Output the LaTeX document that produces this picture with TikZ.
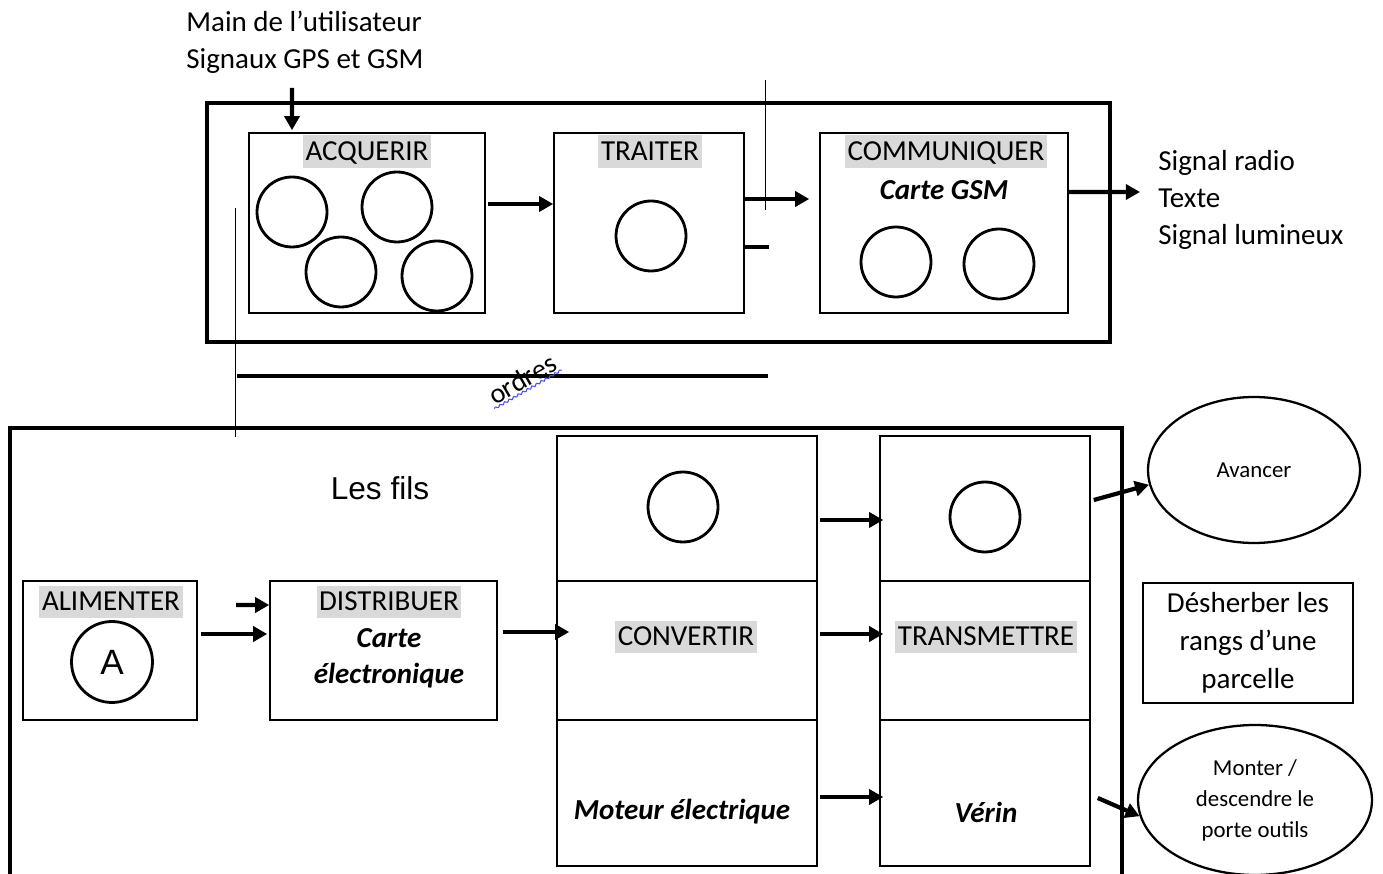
\documentclass[tikz,border=0pt]{standalone}
\usepackage{fontspec}
\setmainfont{Carlito}
\newfontfamily\arialfont{Liberation Sans}
\usetikzlibrary{shapes.geometric, arrows.meta, decorations.pathmorphing}
\definecolor{surlign}{RGB}{217,217,217}

\begin{document}
\begin{tikzpicture}[
  x=0.02cm, y=-0.02cm,
  cadre/.style={draw, line width=2pt},
  bloc/.style={rectangle, draw, line width=0.9pt, inner sep=0pt},
  etiq/.style={fill=surlign, inner xsep=1.5pt, inner ysep=0pt, minimum height=0.66cm,
               text height=12.5pt, text depth=2.5pt, font=\fontsize{16.5}{20}\selectfont},
  texte/.style={align=center, inner sep=0pt, font=\fontsize{16.5}{21}\selectfont},
  gras/.style={texte, font=\fontsize{16.5}{20.5}\selectfont\bfseries\itshape},
  rond/.style={circle, draw, line width=1.6pt, minimum size=1.4cm, inner sep=0pt},
  bulle/.style={ellipse, draw, line width=1.3pt, inner sep=0pt, align=center,
                font=\fontsize{13}{17.6}\selectfont},
  arrow/.style={-{Triangle[length=8pt, width=8.5pt]}, line width=2.4pt},
  fin/.style={line width=0.5pt},
]
  \useasboundingbox (0,0) rectangle (1383,874);

  % partie commande
  \draw[cadre] (207,103) rectangle (1110,342);
  \node[bloc, minimum width=4.72cm, minimum height=3.6cm] (acq)   at (367,223) {};
  \node[bloc, minimum width=3.8cm,  minimum height=3.6cm] (trait) at (649,223) {};
  \node[bloc, minimum width=4.96cm, minimum height=3.6cm] (comm)  at (944,223) {};
  \node[etiq] (acqT)   at (367,152) {ACQUERIR};
  \node[etiq] (traitT) at (650,152) {TRAITER};
  \node[etiq] (commT)  at (946,152) {COMMUNIQUER};
  \node[gras] (gsm)    at (944,190) {Carte GSM};

  \node[rond] (a1) at (292,212) {};
  \node[rond] (a2) at (397,207) {};
  \node[rond] (a3) at (341,272) {};
  \node[rond] (a4) at (437,276) {};
  \node[rond] (t1) at (651,236) {};
  \node[rond] (c1) at (896,262) {};
  \node[rond] (c2) at (999,264) {};

  \node[texte, align=left, anchor=west] (entrees) at (186,42)
    {Main de l’utilisateur\\Signaux GPS et GSM};
  \node[texte, align=left, anchor=west] (sorties) at (1158,200)
    {Signal radio\\Texte\\Signal lumineux};
  \coordinate (main)   at (292,88);
  \coordinate (sortie) at (1140,192);

  \draw[arrow] (main) -- ([xshift=-1.5cm, yshift=0.04cm]acq.north);
  \draw[arrow] ([xshift=0.04cm, yshift=0.38cm]acq.east) -- ([yshift=0.38cm]trait.west);
  \draw[arrow] ([yshift=0.48cm]trait.east) -- ([xshift=-0.2cm, yshift=0.48cm]comm.west);
  \draw[line width=2.4pt] ([yshift=-0.48cm]trait.east) -- +(24,0);
  \draw[arrow] ([yshift=0.62cm]comm.east) -- (sortie);

  \draw[fin] (765,80) -- (765,210);
  \draw[fin] (235,208) -- (235,437);

  % ordres
  \draw[line width=2.4pt] (237,376) -- (768,376);
  \node[font=\fontsize{16}{18}\selectfont, rotate=30, inner sep=1pt] (ordres) at (522,379) {ordres};
  \draw[blue!70, line width=0.6pt, decorate, decoration={snake, amplitude=0.6pt, segment length=3pt}]
    (ordres.south west) -- (ordres.south east);

  % partie operative
  \draw[cadre] (10,880) -- (10,428) -- (1122,428) -- (1122,880);
  \node[texte, font=\arialfont\fontsize{18}{20}\selectfont] (fils) at (380,488) {Les fils};

  \node[bloc, minimum width=3.48cm, minimum height=2.78cm] (alim) at (110,650.5) {};
  \node[bloc, minimum width=4.54cm, minimum height=2.78cm] (dist) at (383.5,650.5) {};
  \node[etiq] (alimT) at (111,602) {ALIMENTER};
  \node[etiq] (distT) at (389,602) {DISTRIBUER};
  \node[rond, minimum size=1.62cm, font=\arialfont\fontsize{20}{20}\selectfont] (pile) at (112,662) {A};
  \node[gras] (carte) at (389,658) {Carte\\électronique};

  \node[bloc, minimum width=5.2cm, minimum height=2.9cm]  (conv1)  at (687,508.5) {};
  \node[bloc, minimum width=5.2cm, minimum height=2.78cm] (conv)   at (687,650.5) {};
  \node[bloc, minimum width=5.2cm, minimum height=2.92cm] (conv3)  at (687,793) {};
  \node[bloc, minimum width=4.2cm, minimum height=2.9cm]  (trans1) at (985,508.5) {};
  \node[bloc, minimum width=4.2cm, minimum height=2.78cm] (trans)  at (985,650.5) {};
  \node[bloc, minimum width=4.2cm, minimum height=2.92cm] (trans3) at (985,793) {};
  \node[rond] (m1) at (683,507) {};
  \node[rond] (m2) at (985,517) {};
  \node[etiq] (convT)  at (686,637) {CONVERTIR};
  \node[etiq] (transT) at (986,637) {TRANSMETTRE};
  \node[gras] (moteur) at (682,812) {Moteur électrique};
  \node[gras] (verin)  at (986,812) {Vérin};

  \node[bulle, minimum width=4.24cm, minimum height=2.92cm] (avancer) at (1254,470) {Avancer};
  \node[bloc, texte, minimum width=4.2cm, minimum height=2.4cm,
        font=\fontsize{16.5}{21.6}\selectfont] (desherber) at (1248,643)
    {Désherber les\\rangs d’une\\parcelle};
  \node[bulle, minimum width=4.68cm, minimum height=3cm] (monter) at (1255,800)
    {Monter /\\descendre le\\porte outils};

  \coordinate (fil) at (236,605);
  \draw[arrow] (fil) -- ([yshift=0.91cm]dist.west);
  \draw[arrow] ([xshift=0.06cm, yshift=0.33cm]alim.east) -- ([xshift=-0.04cm, yshift=0.33cm]dist.west);
  \draw[arrow] ([xshift=0.1cm, yshift=0.37cm]dist.east) -- ([xshift=0.26cm, yshift=0.37cm]conv.west);
  \draw[arrow] ([xshift=0.04cm, yshift=-0.23cm]conv1.east) -- ([xshift=0.08cm, yshift=-0.23cm]trans1.west);
  \draw[arrow] ([xshift=0.04cm, yshift=0.33cm]conv.east) -- ([xshift=0.08cm, yshift=0.33cm]trans.west);
  \draw[arrow] ([xshift=0.04cm, yshift=-0.08cm]conv3.east) -- ([xshift=0.08cm, yshift=-0.08cm]trans3.west);
  \draw[arrow] ([xshift=0.06cm, yshift=0.17cm]trans1.east) -- (avancer.188);
  \draw[arrow] ([xshift=0.14cm, yshift=-0.1cm]trans3.east) -- (monter.188);
\end{tikzpicture}
\end{document}
